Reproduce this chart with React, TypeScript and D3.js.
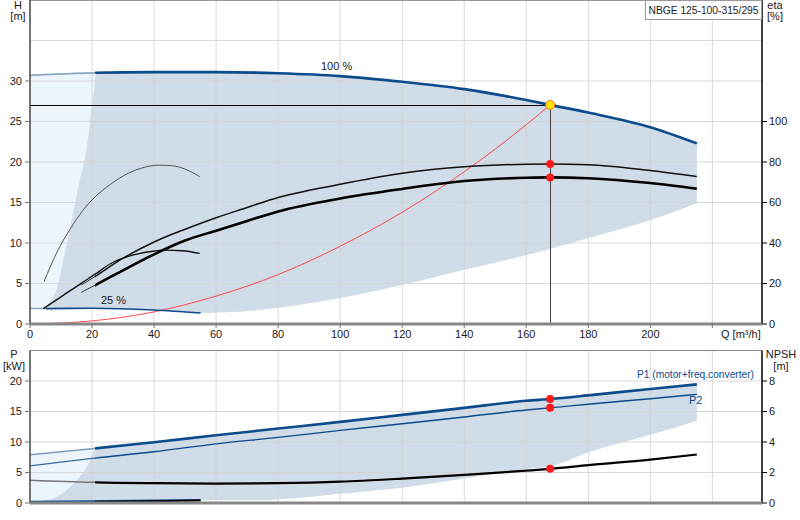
import * as d3 from "d3"

// axis ticks
const qTicks = [0, 20, 40, 60, 80, 100, 120, 140, 160, 180, 200]
const qGrid = [20, 40, 60, 80, 100, 120, 140, 160, 180, 200, 220]
const hTicks = [0, 5, 10, 15, 20, 25, 30]
const hGrid = [5, 10, 15, 20, 25, 30, 35]
const etaTicks = [0, 20, 40, 60, 80, 100]
const pTicks = [0, 5, 10, 15, 20]
const pGrid = [5, 10, 15, 20]
const npshTicks = [0, 2, 4, 6, 8]

// head at 100 % speed
const headQ = [0, 20, 40, 60, 80, 100, 120, 140, 160, 167.7, 180, 200, 215]
const head100 = [30.7, 31.0, 31.1, 31.1, 30.95, 30.6, 29.9, 29.0, 27.65, 27.05, 26.1, 24.3, 22.3]

// head at 25 % speed
const q25 = [0, 5, 20, 40, 55]
const head25 = [1.9, 1.9, 1.95, 1.72, 1.35]

// lower edge of the operating range (top panel)
const lowQ = [55, 72, 100, 120, 140, 160, 180, 200, 215]
const lowH = [1.35, 1.65, 3.2, 4.8, 6.7, 8.5, 10.6, 12.8, 14.9]

// left edge of the operating range (top panel)
const leftQ = [5, 5.8, 8.5, 11.4, 12.8, 16.1, 18.2, 19.4, 21.3]
const leftH = [1.9, 2.3, 4.2, 9.1, 11.6, 17.8, 21.5, 25, 31.0]

// system curve
const sysQ = [0, 20, 40, 60, 80, 100, 120, 140, 160, 167.7]
const sysH = [0, 0.38, 1.5, 3.45, 6.1, 9.6, 13.8, 18.8, 24.6, 27.05]

// efficiency curves [%]
const etaPumpQ = [16.5, 20, 30, 40, 50, 60, 70, 80, 90, 100, 120, 140, 160, 167.7, 180, 200, 215]
const etaPump = [19.2, 22.5, 32.5, 40.5, 46.8, 52.5, 57.5, 62.5, 66, 69, 74.4, 77.6, 78.9, 79.0, 78.7, 75.8, 72.8]
const etaTotQ = [16.5, 21.5, 30, 40, 50, 60, 70, 80, 100, 120, 140, 160, 167.7, 180, 200, 215]
const etaTot = [15.6, 19.6, 26.5, 34.4, 41.2, 46.1, 50.9, 55.6, 62, 66.7, 70.6, 72.2, 72.4, 72, 69.6, 66.8]
const eta25PumpQ = [4.5, 9, 13, 17, 21, 26, 31.6, 36, 41.3, 45.6, 50, 54.7]
const eta25Pump = [20.9, 36.4, 47, 56, 62.8, 69, 74.4, 77, 78.4, 78.2, 76.5, 72.8]
const eta25TotQ = [4.3, 10.1, 16.5, 21, 26.2, 31, 34.8, 39, 43.4, 49, 54.7]
const eta25Tot = [7.6, 13.5, 20.1, 24.6, 30, 33, 34.6, 35.8, 36.5, 36.2, 34.9]

// power curves [kW], NPSH [m]
const pQ = [0, 20, 40, 60, 80, 100, 120, 140, 160, 167.7, 180, 200, 215]
const p1 = [7.9, 8.9, 9.95, 11.1, 12.2, 13.3, 14.45, 15.6, 16.75, 17.05, 17.65, 18.7, 19.45]
const p2 = [6.1, 7.3, 8.4, 9.7, 10.75, 11.9, 13.0, 14.1, 15.25, 15.6, 16.2, 17.1, 17.8]
const npsh = [1.5, 1.36, 1.3, 1.27, 1.3, 1.4, 1.6, 1.84, 2.12, 2.24, 2.48, 2.85, 3.18]

// power at 25 % speed
const p25Q = [0, 20, 40, 55]
const p1At25 = [0.22, 0.3, 0.4, 0.5]
const p2At25Q = [21, 40, 55]
const p2At25 = [0.2, 0.3, 0.4]

// operating range edges (bottom panel)
const bLowQ = [55, 75, 100, 120, 140, 160, 167.7, 180, 200, 215]
const bLow = [0.5, 0.5, 1.5, 2.5, 4.0, 5.6, 6.0, 8.3, 11.2, 13.45]
const bLeftQ = [1, 6.5, 14, 18.3, 21]
const bLeft = [0.22, 0.6, 3.2, 6.0, 8.95]

// duty point
const dutyQ = 167.7
const dutyH = 27.05

type Pt = [number, number]
const zip = (a: number[], b: number[]): Pt[] => a.map((q, i) => [q, b[i]])

const x = d3.scaleLinear().domain([0, 236]).range([30, 762])
const yH = d3.scaleLinear().domain([0, 40]).range([324, 0])
const yEta = d3.scaleLinear().domain([0, 160]).range([324, 0])
const yP = d3.scaleLinear().domain([0, 25]).range([503, 350.5])
const yN = d3.scaleLinear().domain([0, 10]).range([503, 350.5])

const lineOf = (ys: d3.ScaleLinear<number, number>) =>
  d3.line<Pt>().x(d => x(d[0])).y(d => ys(d[1])).curve(d3.curveMonotoneX)

// glue several curve pieces into one closed outline
const join = (...parts: (string | null)[]) =>
  parts.map((p, i) => (i === 0 ? p : (p || "").replace(/^M/, "L"))).join("") + "Z"

const lH = lineOf(yH)
const lEta = lineOf(yEta)
const lP = lineOf(yP)
const lN = lineOf(yN)

const DARK = "#0d4b8c"
const FILL = "#d0dce7"
const LIGHT = "#edf5fc"
const GRID = "#d2d2d2"
const FONT = "'Liberation Sans', Arial, sans-serif"

export default function App() {
  const headPts = zip(headQ, head100)
  const h25Pts = zip(q25, head25)

  // top panel regions
  const topDark = join(
    lH([[21.3, 31.0], ...headPts.filter(d => d[0] > 21.3)]),
    lH(zip(lowQ, lowH).reverse()),
    lH(h25Pts.filter(d => d[0] >= 5).reverse()),
    lH(zip(leftQ, leftH))
  )
  const topLight = join(
    lH(headPts.filter(d => d[0] <= 40)),
    lH(h25Pts.filter(d => d[0] <= 40).reverse())
  )

  // bottom panel regions
  const p1Pts = zip(pQ, p1)
  const p25Pts = zip(p25Q, p1At25)
  const botDark = join(
    lP([[21, 8.95], ...p1Pts.filter(d => d[0] > 21)]),
    lP(zip(bLowQ, bLow).reverse()),
    lP(p25Pts.filter(d => d[0] >= 1).reverse()),
    lP(zip(bLeftQ, bLeft))
  )
  const botLight = join(
    lP(p1Pts.filter(d => d[0] <= 40)),
    lP(p25Pts.filter(d => d[0] <= 40).reverse())
  )

  const txt = { fontFamily: FONT, fontSize: 11, fill: "#1a1a1a" }
  const dutyY = Math.round(yH(dutyH)) + 0.5
  const dutyX = Math.round(x(dutyQ)) + 0.5

  return (
    <svg width={800} height={520} style={{ position: "absolute", left: 0, top: 0, background: "#fff" }}>
      <defs>
        <clipPath id="lt21"><rect x={0} y={0} width={x(21.3)} height={520} /></clipPath>
        <clipPath id="ge21"><rect x={x(21)} y={0} width={800} height={520} /></clipPath>
        <clipPath id="lt5"><rect x={0} y={0} width={x(5)} height={520} /></clipPath>
        <clipPath id="ge5"><rect x={x(5)} y={0} width={800} height={520} /></clipPath>
      </defs>

      {/* ---------- top panel ---------- */}
      <path d={topLight} fill={LIGHT} clipPath="url(#lt21)" />
      <path d={topDark} fill={FILL} />

      {qGrid.map(q => (
        <line key={"vg" + q} x1={x(q)} x2={x(q)} y1={0} y2={324} stroke={GRID} strokeOpacity={0.85} />
      ))}
      {hGrid.map(h => (
        <line key={"hg" + h} x1={30} x2={762} y1={yH(h)} y2={yH(h)} stroke={GRID} strokeOpacity={0.85} />
      ))}
      <line x1={30} x2={762} y1={0.5} y2={0.5} stroke="#999" />

      {/* system curve */}
      <path d={lH(zip(sysQ, sysH)) || ""} fill="none" stroke="#ff4a4a" strokeWidth={1} />

      {/* 25 % head */}
      <path d={lH(h25Pts) || ""} fill="none" stroke="#8ea6c2" strokeWidth={1.5} clipPath="url(#lt5)" />
      <path d={lH(h25Pts) || ""} fill="none" stroke={DARK} strokeWidth={1.6} clipPath="url(#ge5)" />

      {/* 100 % head */}
      <path d={lH(headPts) || ""} fill="none" stroke="#8ea6c2" strokeWidth={1.6} clipPath="url(#lt21)" />
      <path d={lH(headPts) || ""} fill="none" stroke={DARK} strokeWidth={2.6} clipPath="url(#ge21)" />

      {/* efficiency curves */}
      <path d={lEta(zip(eta25PumpQ, eta25Pump)) || ""} fill="none" stroke="#555" strokeWidth={1} />
      <path d={lEta(zip(eta25TotQ, eta25Tot)) || ""} fill="none" stroke="#111" strokeWidth={1.4} />
      <path d={lEta(zip(etaPumpQ, etaPump)) || ""} fill="none" stroke="#333" strokeWidth={1} clipPath="url(#lt21)" />
      <path d={lEta(zip(etaPumpQ, etaPump)) || ""} fill="none" stroke="#111" strokeWidth={1.5} clipPath="url(#ge21)" />
      <path d={lEta(zip(etaTotQ, etaTot)) || ""} fill="none" stroke="#333" strokeWidth={1} clipPath="url(#lt21)" />
      <path d={lEta(zip(etaTotQ, etaTot)) || ""} fill="none" stroke="#000" strokeWidth={2.6} clipPath="url(#ge21)" />

      {/* duty lines */}
      <line x1={30} x2={dutyX} y1={dutyY} y2={dutyY} stroke="#000" strokeWidth={1} />
      <line x1={dutyX} x2={dutyX} y1={dutyY} y2={324} stroke="#444" strokeWidth={1} />

      <text {...txt} x={321} y={69.5}>100 %</text>
      <text {...txt} x={101} y={304}>25 %</text>

      {/* axes */}
      <line x1={30} x2={30} y1={0} y2={324} stroke="#444" strokeWidth={1.5} />
      <line x1={762} x2={762} y1={0} y2={324} stroke="#000" strokeWidth={1.5} />
      <line x1={30} x2={762} y1={324} y2={324} stroke="#888" strokeWidth={3} />
      {hTicks.map(h => (
        <g key={"ht" + h}>
          <line x1={25} x2={30} y1={yH(h)} y2={yH(h)} stroke="#777" />
          <text {...txt} x={22} y={yH(h)} dy="0.35em" textAnchor="end">{h}</text>
        </g>
      ))}
      {etaTicks.map(e => (
        <g key={"et" + e}>
          <line x1={762} x2={767} y1={yEta(e)} y2={yEta(e)} stroke="#000" />
          <text {...txt} x={769} y={yEta(e)} dy="0.35em">{e}</text>
        </g>
      ))}
      {[0, ...qGrid].map(q => (
        <line key={"xt" + q} x1={x(q)} x2={x(q)} y1={324} y2={328} stroke="#777" />
      ))}
      {qTicks.map(q => (
        <text key={"xl" + q} {...txt} x={x(q)} y={338} textAnchor="middle">{q}</text>
      ))}
      <text {...txt} x={721} y={338}>Q [m³/h]</text>

      <text {...txt} x={18} y={9} textAnchor="middle">H</text>
      <text {...txt} x={18} y={20} textAnchor="middle">[m]</text>
      <text {...txt} x={775} y={9} textAnchor="middle">eta</text>
      <text {...txt} x={775} y={20} textAnchor="middle">[%]</text>

      <rect x={645.5} y={0.5} width={116} height={19} fill="#fff" stroke="#999" />
      <text {...txt} x={648.5} y={14} fontSize={10.5} textLength={110} lengthAdjust="spacingAndGlyphs">
        NBGE 125-100-315/295
      </text>

      {/* duty markers */}
      <circle cx={x(dutyQ)} cy={yEta(etaPump[etaPumpQ.indexOf(dutyQ)])} r={4} fill="#ff1a1a" />
      <circle cx={x(dutyQ)} cy={yEta(etaTot[etaTotQ.indexOf(dutyQ)])} r={4} fill="#ff1a1a" />
      <circle cx={x(dutyQ)} cy={yH(dutyH)} r={4.5} fill="#ffe600" stroke="#ff7a00" strokeWidth={1} />

      {/* ---------- bottom panel ---------- */}
      <path d={botLight} fill={LIGHT} clipPath="url(#lt21)" />
      <path d={botDark} fill={FILL} />

      {qGrid.map(q => (
        <line key={"bvg" + q} x1={x(q)} x2={x(q)} y1={350.5} y2={503} stroke={GRID} strokeOpacity={0.85} />
      ))}
      {pGrid.map(p => (
        <line key={"bhg" + p} x1={30} x2={762} y1={yP(p)} y2={yP(p)} stroke={GRID} strokeOpacity={0.85} />
      ))}
      <line x1={30} x2={762} y1={350.5} y2={350.5} stroke="#888" />

      {/* NPSH */}
      <path d={lN(zip(pQ, npsh)) || ""} fill="none" stroke="#777" strokeWidth={1.5} clipPath="url(#lt21)" />
      <path d={lN(zip(pQ, npsh)) || ""} fill="none" stroke="#000" strokeWidth={2.2} clipPath="url(#ge21)" />

      {/* power at 25 % */}
      <path d={lP(p25Pts) || ""} fill="none" stroke={DARK} strokeWidth={2} />
      <path d={lP(zip(p2At25Q, p2At25)) || ""} fill="none" stroke="#000" strokeWidth={2} />

      {/* P1, P2 */}
      <path d={lP(zip(pQ, p2)) || ""} fill="none" stroke="#3a6aa0" strokeWidth={1.2} clipPath="url(#lt21)" />
      <path d={lP(zip(pQ, p2)) || ""} fill="none" stroke={DARK} strokeWidth={1.4} clipPath="url(#ge21)" />
      <path d={lP(p1Pts) || ""} fill="none" stroke="#7f9abb" strokeWidth={1.6} clipPath="url(#lt21)" />
      <path d={lP(p1Pts) || ""} fill="none" stroke={DARK} strokeWidth={2.6} clipPath="url(#ge21)" />

      <text {...txt} x={637} y={378} fill={DARK} textLength={117} lengthAdjust="spacingAndGlyphs">
        P1 (motor+freq.converter)
      </text>
      <text {...txt} x={689} y={404} fill={DARK}>P2</text>

      <circle cx={x(dutyQ)} cy={yP(p1[pQ.indexOf(dutyQ)])} r={4} fill="#ff1a1a" />
      <circle cx={x(dutyQ)} cy={yP(p2[pQ.indexOf(dutyQ)])} r={4} fill="#ff1a1a" />
      <circle cx={x(dutyQ)} cy={yN(npsh[pQ.indexOf(dutyQ)])} r={4} fill="#ff1a1a" />

      <line x1={30} x2={30} y1={350.5} y2={503} stroke="#444" strokeWidth={1.5} />
      <line x1={762} x2={762} y1={350.5} y2={503} stroke="#000" strokeWidth={1.5} />
      <line x1={30} x2={762} y1={503} y2={503} stroke="#888" strokeWidth={3} />
      {pTicks.map(p => (
        <g key={"pt" + p}>
          <line x1={25} x2={30} y1={yP(p)} y2={yP(p)} stroke="#777" />
          <text {...txt} x={22} y={yP(p)} dy="0.35em" textAnchor="end">{p}</text>
        </g>
      ))}
      {npshTicks.map(n => (
        <g key={"nt" + n}>
          <line x1={762} x2={767} y1={yN(n)} y2={yN(n)} stroke="#000" />
          <text {...txt} x={769} y={yN(n)} dy="0.35em">{n}</text>
        </g>
      ))}
      <text {...txt} x={14} y={358} textAnchor="middle">P</text>
      <text {...txt} x={14} y={370} textAnchor="middle">[kW]</text>
      <text {...txt} x={781} y={358} textAnchor="middle">NPSH</text>
      <text {...txt} x={781} y={370} textAnchor="middle">[m]</text>
    </svg>
  )
}
